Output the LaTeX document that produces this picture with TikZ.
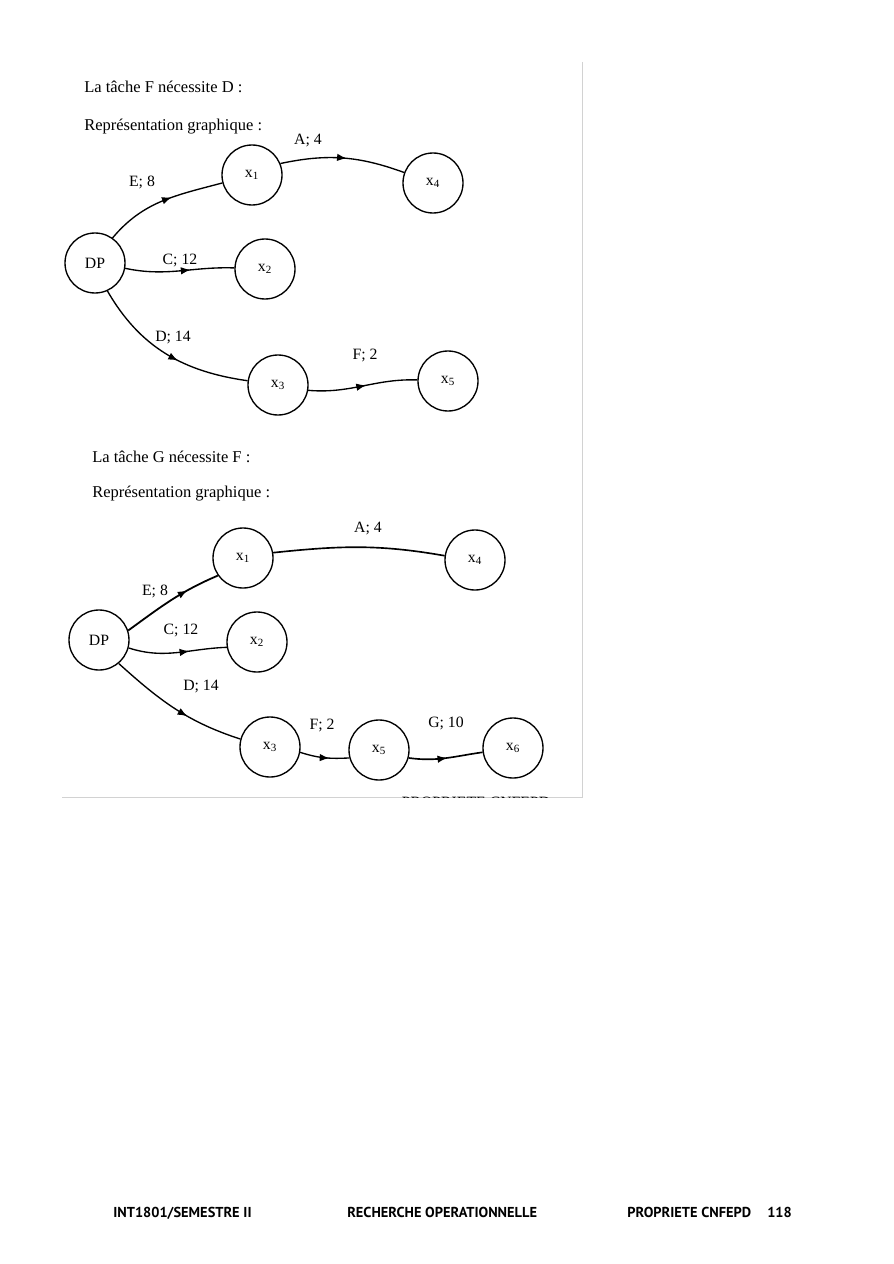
\documentclass[tikz,border=0pt]{standalone}
\usepackage{fontspec}
\setmainfont{Liberation Serif}
\newfontfamily\footfont{PT Sans}
\usetikzlibrary{arrows.meta}
\usetikzlibrary{decorations.markings}

\begin{document}
\begin{tikzpicture}[x=0.6667pt, y=-0.6667pt,
                    roundnode/.style={circle, draw, line width=0.9pt, minimum size=40pt, inner sep=0pt, font=\fontsize{10.5}{12}\selectfont},
                    textnode/.style={anchor=west, inner sep=0pt, font=\fontsize{11}{13}\selectfont},
                    labelnode/.style={inner sep=0pt, font=\fontsize{10.5}{12}\selectfont},
                    footnode/.style={anchor=base west, inner sep=0pt, font=\footfont\bfseries\fontsize{9.6}{11}\selectfont},
                    taskedge/.style={line width=0.9pt, postaction={decorate},
                                     decoration={markings, mark=at position #1 with {\arrow{Latex[length=6.5pt,width=5pt]}}}},
                    taskedge/.default=0.5
                   ]
\useasboundingbox (0,0) rectangle (893,1264);
%Frame of the scan
\draw[gray!35, line width=0.6pt] (582,62) -- (582,797) -- (62,797);

%First graph
\node[textnode] (t1) at (84,87)  {La tâche F nécessite D :};
\node[textnode] (t2) at (84,127) {Représentation graphique :};

\node[roundnode] (dp) at (95,263)  {DP};
\node[roundnode] (x1) at (252,175) {x\textsubscript{1}};
\node[roundnode] (x4) at (433,183) {x\textsubscript{4}};
\node[roundnode] (x2) at (265,269) {x\textsubscript{2}};
\node[roundnode] (x3) at (278,385) {x\textsubscript{3}};
\node[roundnode] (x5) at (448,381) {x\textsubscript{5}};

\draw[taskedge=0.58] (dp.55) to[out=50, in=195] (x1);
\draw[taskedge=0.53] (x1.22) to[out=12, in=160] (x4.160);
\draw[taskedge=0.6]  (dp.-10) to[out=-12, in=178] (x2);
\draw[taskedge=0.58] (dp.-66) to[out=-60, in=172] (x3);
\draw[taskedge=0.53] (x3.-10) to[out=-5, in=178] (x5);

\node[labelnode] (lE) at (142,182) {E; 8};
\node[labelnode] (lA) at (308,141) {A; 4};
\node[labelnode] (lC) at (180,260) {C; 12};
\node[labelnode] (lD) at (173,338) {D; 14};
\node[labelnode] (lF) at (365,355) {F; 2};

%Second graph
\node[textnode] (t3) at (92,457) {La tâche G nécessite F :};
\node[textnode] (t4) at (92,494) {Représentation graphique :};

\node[roundnode] (dpb) at (99,640)  {DP};
\node[roundnode] (x1b) at (243,558) {x\textsubscript{1}};
\node[roundnode] (x4b) at (475,560) {x\textsubscript{4}};
\node[roundnode] (x2b) at (257,642) {x\textsubscript{2}};
\node[roundnode] (x3b) at (270,747) {x\textsubscript{3}};
\node[roundnode] (x5b) at (379,750) {x\textsubscript{5}};
\node[roundnode] (x6b) at (513,748) {x\textsubscript{6}};

\draw[taskedge=0.68, line width=1.2pt] (dpb.18) to[out=36, in=203] (x1b.215);
\draw[line width=1.1pt] (x1b.10) to[out=6, in=170] (x4b.172);
\draw[taskedge=0.62] (dpb.-15) to[out=-18, in=182] (x2b.190);
\draw[taskedge=0.6]  (dpb.-50) to[out=-42, in=162] (x3b.165);
\draw[taskedge=0.6]  (x3b.-10) to[out=-18, in=183] (x5b.195);
\draw[taskedge=0.52, line width=1.1pt] (x5b.-15) to[out=-8, in=188] (x6b.188);

\node[labelnode] (lEb) at (155,591) {E; 8};
\node[labelnode] (lAb) at (368,529) {A; 4};
\node[labelnode] (lCb) at (181,630) {C; 12};
\node[labelnode] (lDb) at (201,687) {D; 14};
\node[labelnode] (lFb) at (322,725) {F; 2};
\node[labelnode] (lGb) at (446,723) {G; 10};

%Cut text under the scan
\begin{scope}
\clip (400,760) rectangle (590,797.5);
\node[labelnode] (cut) at (476,802) {PROPRIETE CNFEPD};
\end{scope}

%Footer
\node[footnode] (f1) at (113,1217) {INT1801/SEMESTRE II};
\node[footnode] (f2) at (347,1217) {RECHERCHE OPERATIONNELLE};
\node[footnode] (f3) at (627,1217) {PROPRIETE CNFEPD};
\node[footnode] (f4) at (767,1217) {118};
\end{tikzpicture}
\end{document}
